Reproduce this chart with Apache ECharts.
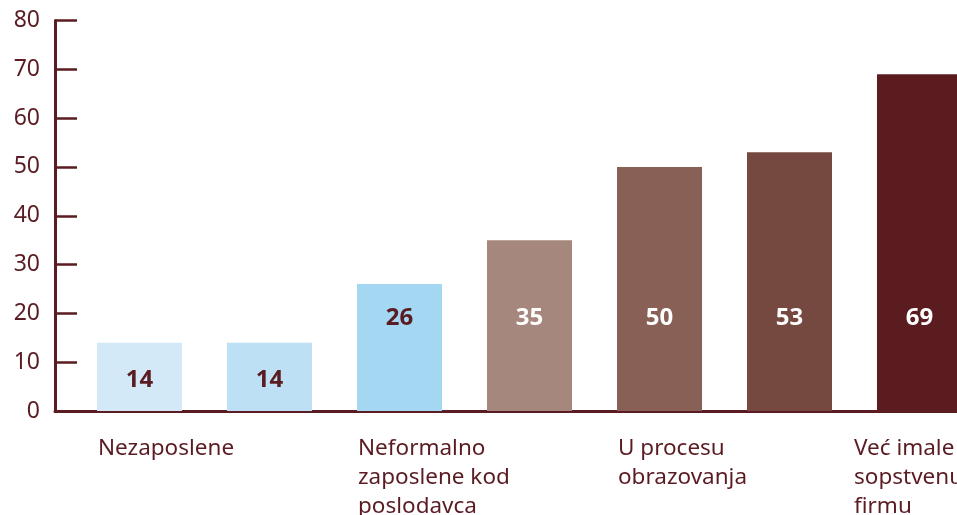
<!DOCTYPE html>
<html>
<head>
<meta charset="utf-8">
<script src="https://cdn.jsdelivr.net/npm/echarts@6/dist/echarts.min.js"></script>
<style>
html,body{margin:0;padding:0;background:#fff;}
#chart{width:957px;height:515px;}
</style>
</head>
<body>
<div id="chart"></div>
<script>
// podaci
var categories=['Nezaposlene','','Neformalno\nzaposlene kod\nposlodavca','','U procesu\nobrazovanja','','Već imale\nsopstvenu\nfirmu'];
var values=[14,14,26,35,50,53,69];
var barColors=['#d3e9f7','#bde0f4','#a3d7f2','#a6877d','#886055','#754840','#5a1c1e'];
var yTicks=[0,10,20,30,40,50,60,70,80];

var dark='#5a1c22';
var chart=echarts.init(document.getElementById('chart'));

// vrednosti na stubovima
var barData=[];
for(var i=0;i<values.length;i++){
	barData.push({
		value:values[i],
		itemStyle:{color:barColors[i]},
		label:{
			color:i<3?dark:'#fff',
			distance:values[i]<20?19:81
		}
	});
}
// nazivi kategorija ispod stubova (poravnati levo sa stubom, poslednji pomeren ulevo)
var nameData=[];
for(var j=0;j<values.length;j++){
	nameData.push({
		value:values[j],
		name:categories[j],
		label:{offset:[j==values.length-1?-23:1,23]}
	});
}

var option={
	animation:false,
	grid:[
		{left:55,right:0,top:20.5,bottom:104,outerBoundsMode:'none'},
		{left:74.5,width:910,top:20.5,bottom:104,outerBoundsMode:'none'}
	],
	xAxis:[
		{gridIndex:0,type:'category',data:categories,
			axisLine:{show:true,lineStyle:{color:dark,width:3}},
			axisTick:{show:false},axisLabel:{show:false},splitLine:{show:false}},
		{gridIndex:1,type:'category',data:categories,
			axisLine:{show:false},axisTick:{show:false},axisLabel:{show:false}}
	],
	yAxis:[
		{gridIndex:0,type:'value',min:yTicks[0],max:yTicks[yTicks.length-1],interval:10,
			axisLine:{show:true,lineStyle:{color:dark,width:3}},
			axisTick:{show:true,inside:true,length:22,lineStyle:{color:dark,width:2.5}},
			axisLabel:{color:dark,fontSize:23,fontFamily:'Noto Sans',margin:15},
			splitLine:{show:false}},
		{gridIndex:1,type:'value',min:yTicks[0],max:yTicks[yTicks.length-1],interval:10,show:false}
	],
	series:[
		{
			type:'bar',xAxisIndex:1,yAxisIndex:1,
			barWidth:85,
			data:barData,
			label:{show:true,position:'insideBottom',fontSize:24,fontWeight:'bold',
				fontFamily:'Noto Sans',lineHeight:24}
		},
		{
			type:'bar',xAxisIndex:1,yAxisIndex:1,
			barWidth:85,barGap:'-100%',
			data:nameData,
			itemStyle:{color:'rgba(0,0,0,0)'},
			silent:true,
			label:{show:true,position:[0,'100%'],align:'left',verticalAlign:'top',
				formatter:function(p){return p.name;},
				color:dark,fontSize:22.5,fontFamily:'Noto Sans',lineHeight:29}
		}
	]
};
chart.setOption(option);
</script>
</body>
</html>
